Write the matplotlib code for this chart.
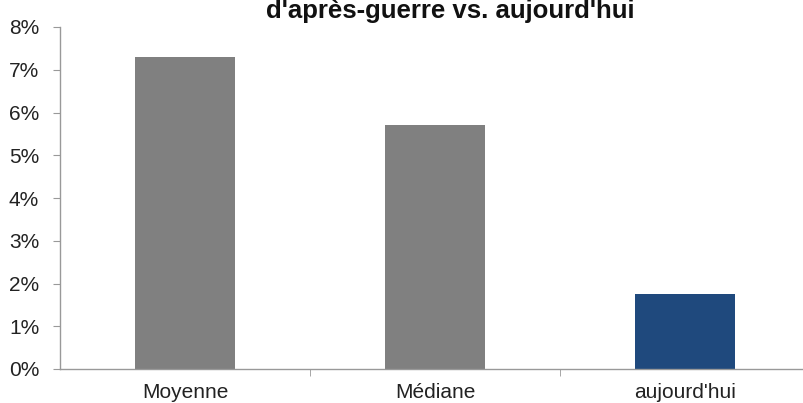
import matplotlib
matplotlib.use("Agg")
import matplotlib.pyplot as plt
from matplotlib.ticker import FuncFormatter, FixedLocator

categories = ["Moyenne", "Médiane", "aujourd'hui"]
values = [7.3, 5.7, 1.75]
colors = ["#808080", "#808080", "#1f497d"]
title = "d'après-guerre vs. aujourd'hui"

plt.rcParams["font.family"] = ["Liberation Sans Narrow", "Liberation Sans", "DejaVu Sans"]

fig = plt.figure(figsize=(8.04, 4.03), dpi=100)
ax = fig.add_axes([60 / 804, 1 - 369 / 403, 750 / 804, 342 / 403])

x = range(len(categories))
ax.bar(x, values, width=0.4, color=colors, zorder=2)

ax.set_xlim(-0.5, len(categories) - 0.5)
ax.set_ylim(0, 8)
ax.set_yticks(range(0, 9))
ax.yaxis.set_major_formatter(FuncFormatter(lambda v, p: f"{int(v)}%"))
ax.set_xticks(list(x))
ax.set_xticklabels(categories)
ax.xaxis.set_minor_locator(FixedLocator([0.5, 1.5]))

for s in ["top", "right"]:
    ax.spines[s].set_visible(False)
for s in ["left", "bottom"]:
    ax.spines[s].set_color("#999999")
    ax.spines[s].set_linewidth(1.0)

ax.tick_params(axis="y", direction="out", length=5, color="#999999",
               labelsize=15, labelcolor="#222222", pad=10)
ax.tick_params(axis="x", which="major", length=0, labelsize=15,
               labelcolor="#222222", pad=10)
ax.tick_params(axis="x", which="minor", direction="out", length=5, color="#999999")

fig.text(450 / 804, 1 - 18 / 403, title, ha="center", va="baseline",
         fontsize=18.5, fontweight="bold", color="#111111")

fig.savefig("out.png", dpi=100)
